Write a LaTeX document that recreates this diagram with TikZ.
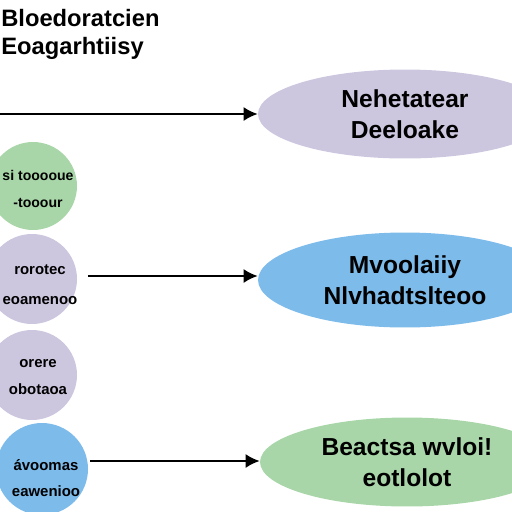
\documentclass[tikz,border=0pt]{standalone}
\usepackage{fontspec}
\setmainfont{Liberation Sans}
\usetikzlibrary{shapes.geometric,arrows.meta,positioning}

\definecolor{lilac}{HTML}{CDC6DF}
\definecolor{skyblue}{HTML}{7DBBEB}
\definecolor{leaf}{HTML}{A8D6A8}

\begin{document}
\begin{tikzpicture}[x=0.02cm,y=-0.02cm,
    oval/.style={ellipse,inner sep=0pt,minimum width=5.88cm,minimum height=1.78cm,
      align=center,font=\fontsize{14}{17.5}\selectfont\bfseries},
    dot/.style={circle,inner sep=0pt,minimum size=1.8cm},
    dottext/.style={align=center,inner sep=0pt,font=\fontsize{8.5}{15}\selectfont\bfseries},
    flow/.style={-{Latex[length=8pt,width=8pt]},line width=1.1pt}]
    \useasboundingbox (0,0) rectangle (512,512);
    \clip (0,0) rectangle (512,512);

    \node[anchor=north west,align=left,inner sep=0pt,
      font=\fontsize{13.5}{16}\selectfont\bfseries] (title) at (1,9)
      {Bloedoratcien\\Eoagarhtiisy};

    \node[oval,fill=lilac] (top) at (405,114) {Nehetatear\\Deeloake};
    \node[oval,fill=skyblue,minimum height=1.9cm] (mid) at (405,280) {Mvoolaiiy\\Nlvhadtslteoo};
    \node[oval,fill=leaf] (low) at (407,462) {Beactsa wvloi!\\eotlolot};

    \node[dot,fill=leaf,minimum size=1.76cm] (c1) at (33,186) {};
    \node[dot,fill=lilac] (c2) at (32,279) {};
    \node[dot,fill=lilac] (c3) at (32,375) {};
    \node[dot,fill=skyblue,minimum size=1.84cm] (c4) at (42,469) {};
    \node[dottext,font=\fontsize{8}{15}\selectfont\bfseries] (t1) at (38,189) {si tooooue\\-tooour};
    \node[dottext,font=\fontsize{8.5}{17}\selectfont\bfseries] (t2) at (40,285) {rorotec\\eoamenoo};
    \node[dottext] (t3) at (38,377) {orere\\obotaoa};
    \node[dottext] (t4) at (46,478) {\'avoomas\\eawenioo};

    \coordinate (s1) at (0,114);
    \coordinate (s2) at (88,276);
    \coordinate (s3) at (90,461);
    \draw[flow] (s1) -- (top);
    \draw[flow] (s2) -- (s2 -| mid.west);
    \draw[flow] (s3) -- (s3 -| low.west);
\end{tikzpicture}
\end{document}
